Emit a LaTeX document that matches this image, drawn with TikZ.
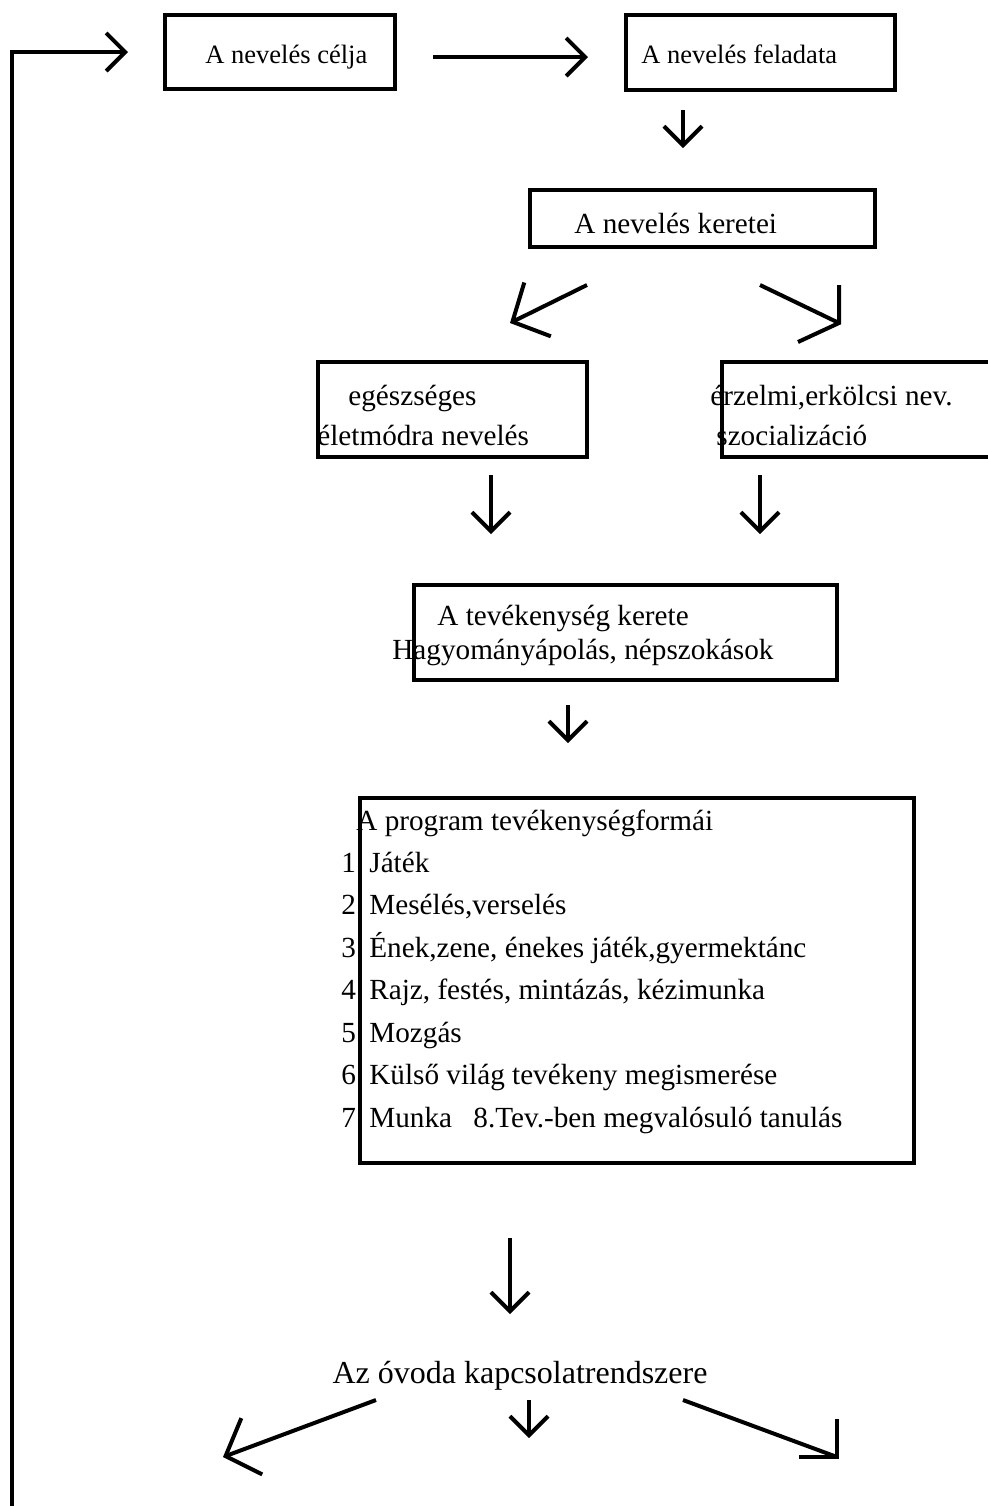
\documentclass[tikz,border=0pt]{standalone}
\usepackage{fontspec}
\setmainfont{Liberation Serif}
\usetikzlibrary{arrows.meta,fit}

\tikzset{
  box/.style={draw,line width=2pt,inner sep=0pt},
  lbl/.style={anchor=base west,inner sep=0pt,font=\fontsize{14.6}{17}\selectfont},
  small/.style={font=\fontsize{13.25}{16}\selectfont},
  line/.style={line width=2pt,line join=miter},
  arr/.style={line,-{Straight Barb[length=9.5pt,width=19pt,sharp]}},
  bigarr/.style={line,-{Straight Barb[length=14pt,width=30pt,sharp]}},
}

\begin{document}
\begin{tikzpicture}[x=0.5pt,y=-0.5pt]
\useasboundingbox (0,0) rectangle (987,1506);

% texts
\node[lbl,small] (celja) at (205,63) {A nevelés célja};
\node[lbl,small] (feladata) at (641,63) {A nevelés feladata};
\node[lbl] (keretei) at (574,233) {A nevelés keretei};
\node[lbl] (eg1) at (348,405) {egészséges};
\node[lbl] (eg2) at (317,445) {életmódra nevelés};
\node[lbl] (er1) at (710,405) {érzelmi,erkölcsi nev.};
\node[lbl] (er2) at (716,445) {szocializáció};
\node[lbl] (tev1) at (437,625) {A tevékenység kerete};
\node[lbl] (tev2) at (392,659) {Hagyományápolás, népszokások};
\node[lbl] (prog) at (356,830) {A program tevékenységformái};
\foreach \t [count=\i] in {Játék, {Mesélés,verselés}, {Ének,zene, énekes játék,gyermektánc},
    {Rajz, festés, mintázás, kézimunka}, Mozgás, {Külső világ tevékeny megismerése}, Munka}{
  \node[lbl] (num\i) at (341,{872+42.5*(\i-1)}) {\i.};
  \node[lbl] (item\i) at (369,{872+42.5*(\i-1)}) {\t};
}
\node[lbl] (item8) at (473,1127) {8.Tev.-ben megvalósuló tanulás};
\node[anchor=base,inner sep=0pt,font=\fontsize{16}{19}\selectfont] (ovoda) at (520,1383) {Az óvoda kapcsolatrendszere};

% boxes
\node[box,fit={(165,15) (395,89)}] (celjabox) {};
\node[box,fit={(626,15) (895,90)}] (feladatabox) {};
\node[box,fit={(530,190) (875,247)}] (kereteibox) {};
\node[box,fit={(318,362) (587,457)}] (egbox) {};
\node[box,fit={(722,362) (995,457)}] (erbox) {};
\node[box,fit={(414,585) (837,680)}] (tevbox) {};
\node[box,fit={(360,798) (914,1163)}] (progbox) {};

% arrows
\coordinate (loop0) at (12,1512);
\coordinate (loop1) at (128,52);
\draw[arr] (loop0) |- (loop1);
\coordinate (a0) at (433,57);
\coordinate (a1) at (588,57);
\draw[arr] (a0) -- (a1);
\coordinate (b0) at (683,110);
\coordinate (b1) at (683,148);
\draw[arr] (b0) -- (b1);
\coordinate (dl0) at (587,285);
\coordinate (dl1) at (510,323);
\draw[bigarr] (dl0) -- (dl1);
\coordinate (dr0) at (760,285);
\coordinate (dr1) at (839,323);
\draw[line] (dr0) -- (dr1);
\draw[line] ([shift={(0,-38)}]dr1) -- (dr1) -- ([shift={(-41,19)}]dr1);
\coordinate (c0) at (491,475);
\coordinate (c1) at (491,534);
\draw[arr] (c0) -- (c1);
\coordinate (d0) at (760,475);
\coordinate (d1) at (760,534);
\draw[arr] (d0) -- (d1);
\coordinate (e0) at (568,705);
\coordinate (e1) at (568,743);
\draw[arr] (e0) -- (e1);
\coordinate (f0) at (510,1238);
\coordinate (f1) at (510,1314);
\draw[arr] (f0) -- (f1);
\coordinate (gl0) at (376,1400);
\coordinate (gl1) at (223,1457);
\draw[bigarr] (gl0) -- (gl1);
\coordinate (gm0) at (529,1400);
\coordinate (gm1) at (529,1438);
\draw[arr] (gm0) -- (gm1);
\coordinate (gr0) at (683,1400);
\coordinate (gr1) at (837,1457);
\draw[line] (gr0) -- (gr1);
\draw[line] ([shift={(0,-38)}]gr1) -- (gr1) -- ([shift={(-38,0)}]gr1);
\end{tikzpicture}
\end{document}
